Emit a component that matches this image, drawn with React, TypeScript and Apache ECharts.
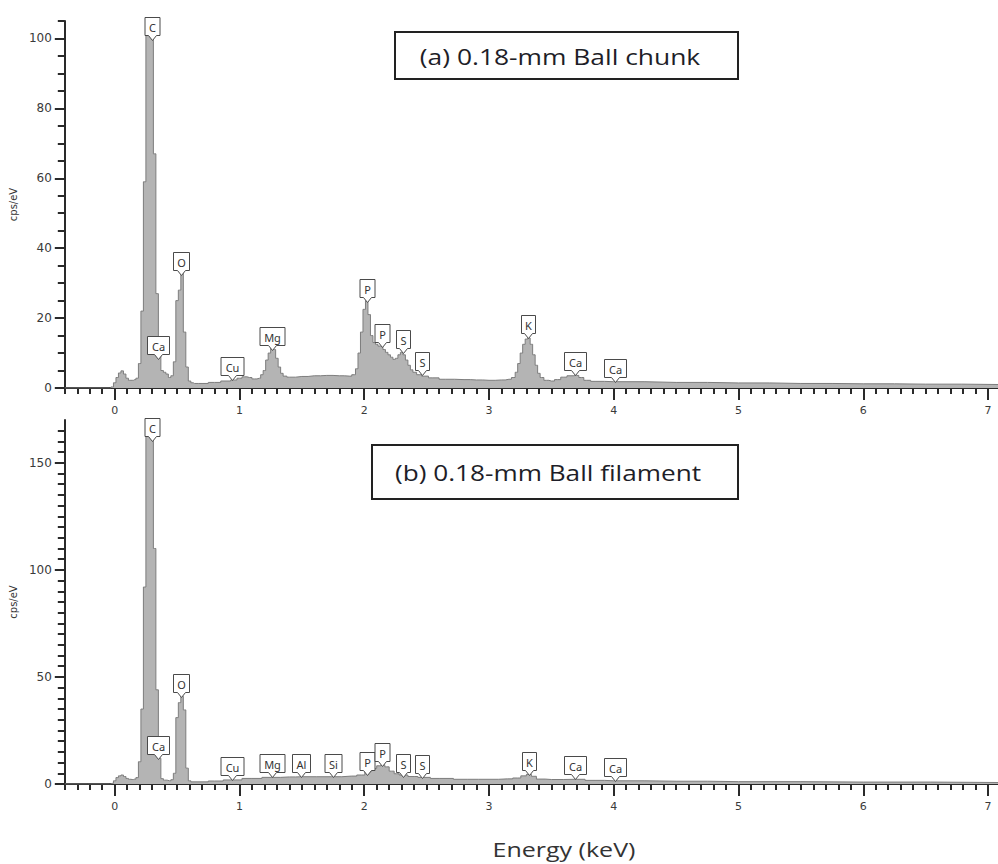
import React, { useEffect, useRef } from "react";
import * as echarts from "echarts";

// ---------- data ----------
// (a) 0.18-mm Ball chunk : energy (keV), counts (cps/eV)
const energyA = [-0.4, -0.04, -0.02, 0.0, 0.02, 0.04, 0.06, 0.08, 0.1, 0.12, 0.14, 0.16, 0.18, 0.2, 0.22, 0.24, 0.26, 0.28, 0.3, 0.32, 0.34, 0.36, 0.38, 0.4, 0.42, 0.44, 0.46, 0.48, 0.5, 0.52, 0.54, 0.56, 0.58, 0.6, 0.62, 0.64, 0.7, 0.8, 0.9, 0.96, 1.0, 1.04, 1.08, 1.12, 1.16, 1.18, 1.2, 1.22, 1.24, 1.26, 1.28, 1.3, 1.32, 1.34, 1.36, 1.4, 1.5, 1.6, 1.7, 1.8, 1.88, 1.92, 1.94, 1.96, 1.98, 2.0, 2.02, 2.04, 2.06, 2.08, 2.1, 2.12, 2.14, 2.16, 2.18, 2.2, 2.22, 2.24, 2.26, 2.28, 2.3, 2.32, 2.34, 2.36, 2.38, 2.4, 2.44, 2.48, 2.55, 2.65, 2.8, 2.9, 3.0, 3.1, 3.16, 3.2, 3.22, 3.24, 3.26, 3.28, 3.3, 3.32, 3.34, 3.36, 3.38, 3.4, 3.42, 3.46, 3.5, 3.55, 3.6, 3.65, 3.7, 3.74, 3.78, 3.85, 4.0, 4.5, 5.0, 5.5, 6.0, 6.5, 7.08];
const countsA = [0, 0, 0.3, 1.5, 3, 4.3, 4.9, 4, 2.8, 2.2, 2.2, 2.4, 2.8, 7, 22, 59, 112, 115, 112, 67, 27, 12, 5, 4.5, 4, 3, 3.5, 7.5, 25, 28, 33, 16, 6, 2, 1.5, 1.3, 1.3, 1.6, 2.0, 2.3, 2.8, 3.2, 3.0, 2.6, 2.8, 3.8, 5, 8, 10, 11.5, 11, 8.5, 6, 4.2, 3.4, 3.1, 3.3, 3.5, 3.6, 3.5, 3.4, 3.8, 5.5, 10, 16, 22.5, 25, 21, 15, 13, 12.5, 12, 11.8, 11, 10.2, 9.5, 8.8, 8.2, 8.5, 9.5, 10.2, 9.5, 8, 6.5, 5.2, 4.5, 3.8, 3.4, 2.9, 2.5, 2.4, 2.3, 2.2, 2.3, 2.5, 3.0, 4.5, 7, 10, 12.5, 14, 14.3, 12.5, 9.5, 6.5, 4.2, 3, 2.2, 2, 2.4, 3.1, 3.5, 3.6, 3.0, 2.2, 1.9, 1.8, 1.6, 1.45, 1.3, 1.2, 1.1, 1.0];

// (b) 0.18-mm Ball filament
const energyB = [-0.4, -0.04, -0.02, 0.0, 0.02, 0.04, 0.06, 0.08, 0.1, 0.12, 0.14, 0.16, 0.18, 0.2, 0.22, 0.24, 0.26, 0.28, 0.3, 0.32, 0.34, 0.36, 0.38, 0.4, 0.44, 0.46, 0.48, 0.5, 0.52, 0.54, 0.56, 0.58, 0.6, 0.62, 0.7, 0.8, 0.94, 1.1, 1.26, 1.4, 1.5, 1.74, 1.9, 1.98, 2.03, 2.08, 2.12, 2.15, 2.18, 2.22, 2.26, 2.3, 2.4, 2.46, 2.6, 2.83, 3.0, 3.15, 3.23, 3.28, 3.32, 3.36, 3.4, 3.5, 3.69, 3.85, 4.0, 4.5, 5.0, 6.0, 7.08];
const countsB = [0, 0, 0.3, 1.5, 3, 3.8, 4.2, 3.5, 2.6, 2.2, 2.1, 2.3, 3, 10.4, 35, 92, 180, 185, 180, 110, 44, 12, 2.5, 1.8, 1.5, 2, 5, 31, 38, 41, 34.6, 7.4, 1.5, 1.0, 1.0, 1.4, 1.9, 2.6, 3.1, 3.3, 3.4, 3.4, 3.7, 4.2, 5.8, 7.3, 8.5, 9, 8, 6, 4.8, 4.2, 3.5, 3.1, 2.6, 2.2, 2.2, 2.4, 2.8, 3.8, 4.5, 3.6, 2.3, 2.1, 2.2, 1.7, 1.5, 1.3, 1.1, 0.9, 0.7];

// element marker labels: name, energy, height of the pointed spot
const markNamesA = ["C", "Ca", "O", "Cu", "Mg", "P", "P", "S", "S", "K", "Ca", "Ca"];
const markEnergyA = [0.296, 0.35, 0.53, 0.94, 1.26, 2.02, 2.14, 2.31, 2.46, 3.31, 3.69, 4.01];
const markValueA = [99.5, 8.2, 32.4, 2.3, 11, 24.7, 11.8, 10, 3.7, 14.3, 3.7, 1.8];

const markNamesB = ["C", "Ca", "O", "Cu", "Mg", "Al", "Si", "P", "P", "S", "S", "K", "Ca", "Ca"];
const markEnergyB = [0.296, 0.35, 0.53, 0.94, 1.26, 1.49, 1.75, 2.02, 2.14, 2.31, 2.46, 3.32, 3.69, 4.01];
const markValueB = [160, 11.7, 40.6, 1.9, 3.4, 3.1, 3.4, 4.2, 8.4, 3.4, 2.7, 4.2, 2.2, 1.5];

// axis ticks
const xMajorTicks = [0, 1, 2, 3, 4, 5, 6, 7];
const yMajorTicksA = [0, 20, 40, 60, 80, 100];
const yMajorTicksB = [0, 50, 100, 150];
const xMin = -0.4;
const xMax = 7.08;
const yMaxA = 105;
const yMaxB = 170;

const titleA = "(a) 0.18-mm Ball chunk";
const titleB = "(b) 0.18-mm Ball filament";
const xTitle = "Energy (keV)";
const yTitle = "cps/eV";

// ---------- helpers ----------
function stepValues(from: number, to: number, step: number): number[] {
  const out: number[] = [];
  const n = Math.round((to - from) / step);
  for (let i = 0; i <= n; i++) out.push(Math.round((from + i * step) * 1000) / 1000);
  return out;
}
const xMinorTicks = stepValues(-0.4, 7.0, 0.1);
const yMinorTicksA = stepValues(0, 105, 5);
const yMinorTicksB = stepValues(0, 165, 5);

const labelWidths: Record<string, number> = { C: 15, O: 16, P: 15, S: 14, K: 14, Ca: 22, Cu: 23, Mg: 25, Al: 18, Si: 17 };

const AXIS_COLOR = "#2a2a2a";
const LABEL_COLOR = "#3a3a3a";

function makeXAxes(gridIndex: number) {
  return [
    {
      type: "value",
      gridIndex,
      position: "bottom",
      min: xMin,
      max: xMax,
      axisLine: { show: true, onZero: false, lineStyle: { color: AXIS_COLOR, width: 2 } },
      axisTick: { show: true, customValues: xMajorTicks, length: 12, lineStyle: { color: AXIS_COLOR, width: 2 } },
      axisLabel: { show: true, customValues: xMajorTicks, margin: 17, color: LABEL_COLOR, fontSize: 11, fontFamily: "DejaVu Sans" },
      splitLine: { show: false },
    },
    {
      type: "value",
      gridIndex,
      position: "bottom",
      min: xMin,
      max: xMax,
      axisLine: { show: false, onZero: false },
      axisTick: { show: true, customValues: xMinorTicks, length: 6, lineStyle: { color: AXIS_COLOR, width: 2 } },
      axisLabel: { show: false },
      splitLine: { show: false },
    },
  ];
}

function makeYAxes(gridIndex: number, max: number, major: number[], minor: number[]) {
  return [
    {
      type: "value",
      gridIndex,
      position: "left",
      min: 0,
      max,
      name: yTitle,
      nameLocation: "middle",
      nameGap: 42,
      nameTextStyle: { color: "#333", fontSize: 10, fontFamily: "DejaVu Sans" },
      axisLine: { show: true, onZero: false, lineStyle: { color: AXIS_COLOR, width: 2 } },
      axisTick: { show: true, customValues: major, length: 10, lineStyle: { color: AXIS_COLOR, width: 2 } },
      axisLabel: { show: true, customValues: major, margin: 13, color: LABEL_COLOR, fontSize: 12, fontFamily: "DejaVu Sans" },
      splitLine: { show: false },
    },
    {
      type: "value",
      gridIndex,
      position: "left",
      min: 0,
      max,
      axisLine: { show: false, onZero: false },
      axisTick: { show: true, customValues: minor, length: 7, lineStyle: { color: AXIS_COLOR, width: 2 } },
      axisLabel: { show: false },
      splitLine: { show: false },
    },
  ];
}

function spectrumSeries(xs: number[], ys: number[], xAxisIndex: number, yAxisIndex: number) {
  return {
    type: "line",
    xAxisIndex,
    yAxisIndex,
    data: xs.map((x, i) => [x, ys[i]]),
    step: "middle",
    showSymbol: false,
    symbol: "none",
    clip: true,
    lineStyle: { color: "#7d7d7d", width: 1 },
    areaStyle: { color: "#b4b4b4", opacity: 1 },
    z: 2,
  };
}

function markerSeries(names: string[], xs: number[], ys: number[], xAxisIndex: number, yAxisIndex: number) {
  return {
    type: "custom",
    xAxisIndex,
    yAxisIndex,
    clip: false,
    z: 5,
    data: xs.map((x, i) => [x, ys[i]]),
    encode: { x: 0, y: 1 },
    renderItem: (params: any, api: any) => {
      const p = api.coord([api.value(0), api.value(1)]);
      const text = names[params.dataIndex];
      const w = labelWidths[text] || 16;
      const bh = 18;
      const ph = 5;
      const pw = 4;
      const cx = Math.round(p[0]) + 0.5;
      const tip = Math.round(p[1]) + 0.5;
      const bottom = tip - ph;
      const top = bottom - bh;
      const l = cx - w / 2;
      const r = cx + w / 2;
      return {
        type: "group",
        children: [
          {
            type: "polygon",
            shape: {
              points: [
                [l, top],
                [r, top],
                [r, bottom],
                [cx + pw, bottom],
                [cx, tip],
                [cx - pw, bottom],
                [l, bottom],
              ],
            },
            style: { fill: "#ffffff", stroke: "#4a4a4a", lineWidth: 1 },
          },
          {
            type: "text",
            style: {
              text,
              x: cx,
              y: top + bh / 2 + 1,
              align: "center",
              verticalAlign: "middle",
              fill: "#333333",
              font: "11px 'Noto Sans'",
            },
          },
        ],
      };
    },
  };
}

export default function App() {
  const ref = useRef<HTMLDivElement>(null);

  useEffect(() => {
    if (!ref.current) return;
    const chart = echarts.init(ref.current, undefined, { renderer: "svg" });
    const option: any = {
      animation: false,
      backgroundColor: "#ffffff",
      grid: [
        { left: 62, top: 21, width: 936, height: 367 },
        { left: 62, top: 420, width: 936, height: 364 },
      ],
      xAxis: [...makeXAxes(0), ...makeXAxes(1)],
      yAxis: [
        ...makeYAxes(0, yMaxA, yMajorTicksA, yMinorTicksA),
        ...makeYAxes(1, yMaxB, yMajorTicksB, yMinorTicksB),
      ],
      series: [
        spectrumSeries(energyA, countsA, 0, 0),
        spectrumSeries(energyB, countsB, 2, 2),
        markerSeries(markNamesA, markEnergyA, markValueA, 0, 0),
        markerSeries(markNamesB, markEnergyB, markValueB, 2, 2),
      ],
      graphic: [
        {
          type: "rect",
          shape: { x: 395, y: 32, width: 343, height: 47 },
          style: { fill: "#ffffff", stroke: "#222222", lineWidth: 2 },
          z: 10,
        },
        {
          type: "text",
          x: 560,
          y: 56,
          scaleX: 1.2,
          style: { text: titleA, align: "center", verticalAlign: "middle", fill: "#1e1e28", font: "22px 'Open Sans'" },
          z: 11,
        },
        {
          type: "rect",
          shape: { x: 372, y: 445, width: 366, height: 54 },
          style: { fill: "#ffffff", stroke: "#222222", lineWidth: 2 },
          z: 10,
        },
        {
          type: "text",
          x: 548,
          y: 472,
          scaleX: 1.19,
          style: { text: titleB, align: "center", verticalAlign: "middle", fill: "#1e1e28", font: "22px 'Open Sans'" },
          z: 11,
        },
        {
          type: "text",
          x: 564,
          y: 849,
          scaleX: 1.25,
          style: { text: xTitle, align: "center", verticalAlign: "middle", fill: "#333333", font: "20px 'Open Sans'" },
          z: 11,
        },
      ],
    };
    chart.setOption(option);
    return () => chart.dispose();
  }, []);

  return (
    <div
      ref={ref}
      style={{ position: "absolute", left: 0, top: 0, width: 998, height: 864 }}
    />
  );
}
